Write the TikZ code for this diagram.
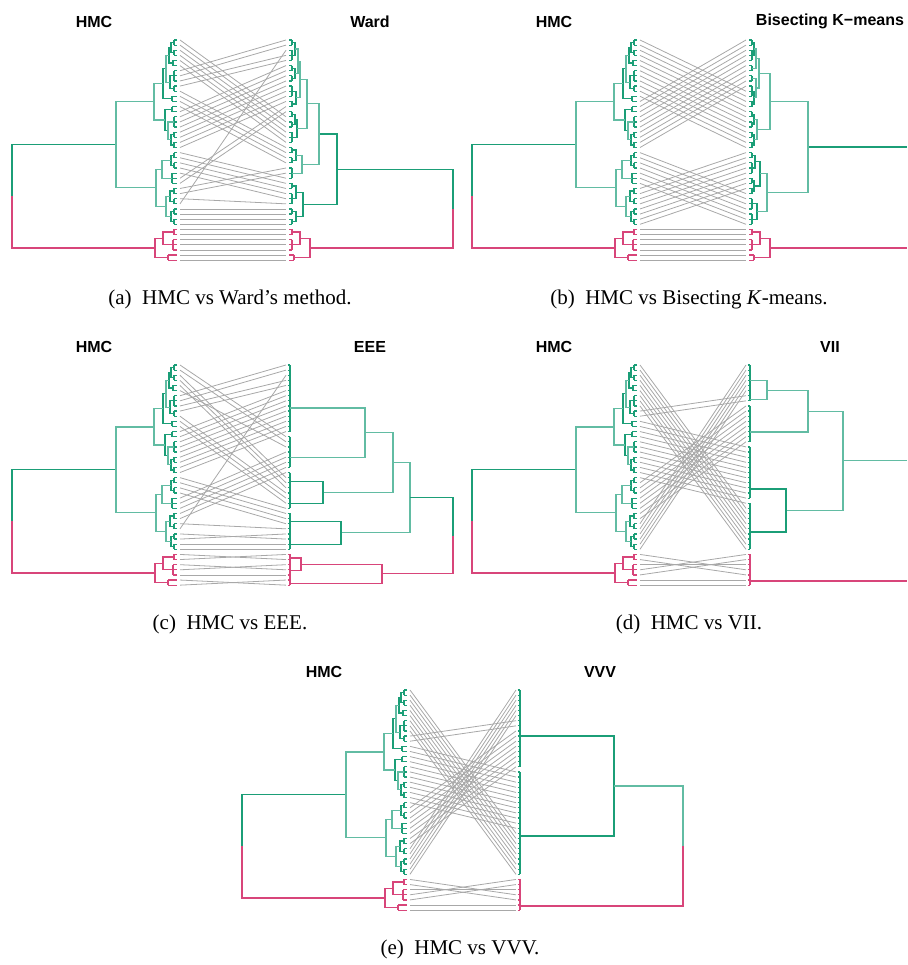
\documentclass[tikz,border=0pt]{standalone}
\usepackage{fontspec}
\setmainfont{Liberation Serif}
\setsansfont{Liberation Sans}

\definecolor{verde}{HTML}{1B9E77}
\definecolor{verdechiaro}{HTML}{62BCA3}
\definecolor{rosa}{HTML}{D8457A}
\definecolor{grigio}{HTML}{A8A8A8}

\tikzset{
  ramo/.style={line width=1.2pt},
  rv/.style={ramo, color=verde},
  rvc/.style={ramo, color=verdechiaro},
  rr/.style={ramo, color=rosa},
  legame/.style={line width=0.8pt, color=grigio},
  titolo/.style={font=\sffamily\bfseries\fontsize{16}{19}\selectfont, inner sep=0pt},
  didascalia/.style={font=\fontsize{21}{25}\selectfont, inner sep=0pt}
}

% rametti: foglie da #2 (a/b/x) unite alla quota x, foglia in #1
\newcommand{\rametti}[2]{%
  \foreach \ia/\ib/\xt in {#2}{%
    \draw (\xt,\ia) -- (\xt,\ib);
    \foreach \kk in {\ia,...,\ib} \draw (#1,\kk) -- (\xt,\kk);}}
% archi a U: quota/y1/x1/y2/x2
\newcommand{\archi}[1]{%
  \foreach \xh/\ya/\xa/\yb/\xb in {#1}
    \draw (\xa,\ya) -| (\xh,\yb) -- (\xb,\yb);}
% cluster piatti a destra
\newcommand{\piatto}[2]{%
  \foreach \ia/\ib in {#2}{%
    \draw[#1] (290,\ia) -- (290,\ib);
    \foreach \kk in {\ia,...,\ib} \draw[#1] (287.5,\kk) -- (290,\kk);}}
% linee grigie tra le foglie
\newcommand{\legami}[1]{%
  \foreach \dn [count=\sn from 0] in {#1}
    \draw[legame] (180,\sn) -- (286,\dn);}

% albero HMC (a sinistra, uguale in tutti i pannelli)
\newcommand{\alberohmc}{%
  \begin{scope}[rv]
    \rametti{177}{0/1/174,2/3/174,4/5/173,6/8/174,9/10/174,11/12/172,13/14/172,15/17/174,18/19/174,20/21/174,22/23/174,24/25/174,26/28/172,29/30/174,31/32/174,33/34/174,35/36/174}
    \archi{171/0.5/174/2.5/174,169/1.5/171/4.5/173,170/7/174/9.5/174,163/5.63/166/11.5/172,171/18.5/174/20.5/174,165/13.5/172/17.75/168,171/22.5/174/24.5/174,170/29.5/174/31.5/174,171/33.5/174/35.5/174}
    \draw (116,20.48) -- (12,20.48) -- (12,30.55);
  \end{scope}
  \begin{scope}[rvc]
    \archi{166/3/169/8.25/170,168/16/174/19.5/171,154/8.56/163/15.63/165,162/23.5/171/27/172,166/30.5/170/34.5/171,156/25.25/162/32.5/166,116/12.09/154/28.88/156}
  \end{scope}
  \begin{scope}[rr]
    \rametti{177}{37/38/174,39/41/173,42/43/168}
    \archi{163/37.5/174/40/173,155/38.75/163/42.5/168}
    \draw (12,30.55) -- (12,40.63) -- (155,40.63);
  \end{scope}}

\begin{document}
\begin{tikzpicture}[x=1pt, y=-5.12pt]
\useasboundingbox (0pt,0pt) rectangle (907pt,-965pt);

% (a) HMC vs Ward
\begin{scope}[shift={(0pt,-40pt)}]
  \legami{15,16,17,18,19,20,0,1,3,4,21,22,23,24,5,6,7,8,9,10,11,12,27,28,29,30,31,13,14,25,26,32,2,33,34,35,36,37,38,39,40,41,42,43}
  \alberohmc
  \begin{scope}[rv]
    \rametti{289}{0/1/292,2/4/292,5/6/292,7/8/292,9/11/292,12/13/292,14/15/292,16/17/292,18/20/292,21/22/292,23/24/292,25/27/292,28/29/292,30/32/292,33/34/292,35/36/292}
    \archi{295/0.5/292/3/292,295/5.5/292/7.5/292,296/10/292/12.5/292,295/14.5/292/16.5/292,297/15.5/295/19/292,296/21.5/292/23.5/292,296/28.5/292/31/292,296/33.5/292/35.5/292,303/29.75/296/34.5/296,337/18.36/319/32.13/303}
    \draw (337,25.24) -- (453,25.24) -- (453,32.93);
  \end{scope}
  \begin{scope}[rvc]
    \archi{298/1.75/295/6.5/295,300/4.13/298/11.25/296,307/7.69/300/17.25/297,302/22.5/296/26/292,319/12.47/307/24.25/302}
  \end{scope}
  \begin{scope}[rr]
    \rametti{289}{37/38/292,39/41/292,42/43/294}
    \archi{300/37.5/292/40/292,310/38.75/300/42.5/294}
    \draw (453,32.93) -- (453,40.63) -- (310,40.63);
  \end{scope}
  \node[titolo] (hmcA) at (94,-3.6) {HMC};
  \node[titolo] (ward) at (370,-3.6) {Ward};
  \node[didascalia] (capA) at (230,50.7) {(a)\enspace HMC vs Ward’s method.};
\end{scope}

% (b) HMC vs Bisecting K-means
\begin{scope}[shift={(460pt,-40pt)}]
  \legami{10,11,12,13,14,15,16,17,18,19,20,21,0,1,2,3,4,5,6,7,8,9,30,31,32,33,34,35,36,22,23,24,25,26,27,28,29,37,38,39,40,41,42,43}
  \alberohmc
  \begin{scope}[rv]
    \rametti{289}{0/1/292,2/4/292,5/6/292,7/8/292,9/11/292,12/13/292,14/15/292,16/17/292,18/19/292,20/21/292,22/23/292,24/26/292,27/28/292,29/30/292,31/33/292,34/36/292}
    \archi{294/0.5/292/3/292,294/10/292/12.5/292,294/14.5/292/16.5/292,294/18.5/292/20.5/292,295/22.5/292/25/292,294/27.5/292/29.5/292,297/32/292/35/292,300/23.75/295/28.5/294}
    \draw (348,20.91) -- (447,20.91);
  \end{scope}
  \begin{scope}[rvc]
    \archi{296/1.75/294/5.5/292,296/7.5/292/11.25/294,299/3.63/296/9.38/296,297/15.5/294/19.5/294,310/6.5/299/17.5/297,307/26.13/300/33.5/297,348/12/310/29.81/307}
  \end{scope}
  \begin{scope}[rr]
    \rametti{289}{37/38/292,39/41/292,42/43/294}
    \archi{300/37.5/292/40/292,310/38.75/300/42.5/294}
    \draw (310,40.63) -- (447,40.63);
  \end{scope}
  \node[titolo] (hmcB) at (94,-3.6) {HMC};
  \node[titolo] (bisk) at (370,-3.6) {Bisecting K−means};
  \node[didascalia] (capB) at (229,50.7) {(b)\enspace HMC vs Bisecting \textit{K}-means.};
\end{scope}

% (c) HMC vs EEE
\begin{scope}[shift={(0pt,-365pt)}]
  \legami{14,15,22,23,24,16,0,1,3,4,25,26,27,5,6,7,8,9,10,11,12,13,28,29,30,31,17,18,19,20,21,32,2,34,33,35,36,38,37,40,39,41,43,42}
  \alberohmc
  \piatto{rv}{0/13,14/20,21/28,29/36}
  \piatto{rr}{37/43}
  \begin{scope}[rvc]
    \archi{365/8.4/290/18/290,393/13.2/365/24.85/323,410/19.03/393/32.75/341}
  \end{scope}
  \begin{scope}[rv]
    \archi{323/22.7/290/27/290,341/30.5/290/35/290}
    \draw (410,25.89) -- (453,25.89) -- (453,33.33);
  \end{scope}
  \begin{scope}[rr]
    \archi{301/37.7/290/40.2/290,382/38.95/301/42.6/290}
    \draw (453,33.33) -- (453,40.78) -- (382,40.78);
  \end{scope}
  \node[titolo] (hmcC) at (94,-3.6) {HMC};
  \node[titolo] (eee) at (370,-3.6) {EEE};
  \node[didascalia] (capC) at (230,50.7) {(c)\enspace HMC vs EEE.};
\end{scope}

% (d) HMC vs VII
\begin{scope}[shift={(460pt,-365pt)}]
  \legami{28,29,30,31,32,33,34,35,36,6,7,16,17,18,19,20,21,22,23,24,25,26,27,8,9,10,11,12,13,14,15,0,1,2,3,4,5,40,41,39,37,38,42,43}
  \alberohmc
  \piatto{rv}{0/7,8/15,16/26,27/36}
  \piatto{rr}{37/43}
  \begin{scope}[rvc]
    \archi{307/3.1/290/6.8/290,348/4.95/307/13.1/290,383/9.03/348/28.4/326}
    \draw (383,18.7) -- (447,18.7);
  \end{scope}
  \begin{scope}[rv]
    \archi{326/24.2/290/32.6/290}
  \end{scope}
  \draw[rr] (290,42.2) -- (447,42.2);
  \node[titolo] (hmcD) at (94,-3.6) {HMC};
  \node[titolo] (vii) at (370,-3.6) {VII};
  \node[didascalia] (capD) at (229,50.7) {(d)\enspace HMC vs VII.};
\end{scope}

% (e) HMC vs VVV
\begin{scope}[shift={(230pt,-690pt)}]
  \legami{28,29,30,31,32,33,34,35,36,6,7,16,17,18,19,20,21,22,23,24,25,26,27,8,9,10,11,12,13,14,15,0,1,2,3,4,5,40,41,39,37,38,42,43}
  \alberohmc
  \piatto{rv}{0/15,16/36}
  \piatto{rr}{37/43}
  \begin{scope}[rv]
    \archi{384/9/290/28.5/290}
  \end{scope}
  \begin{scope}[rvc]
    \draw (384,18.75) -- (453,18.75) -- (453,30.5);
  \end{scope}
  \draw[rr] (453,30.5) -- (453,42.2) -- (290,42.2);
  \node[titolo] (hmcE) at (94,-3.6) {HMC};
  \node[titolo] (vvv) at (370,-3.6) {VVV};
  \node[didascalia] (capE) at (230,50.7) {(e)\enspace HMC vs VVV.};
\end{scope}
\end{tikzpicture}
\end{document}
